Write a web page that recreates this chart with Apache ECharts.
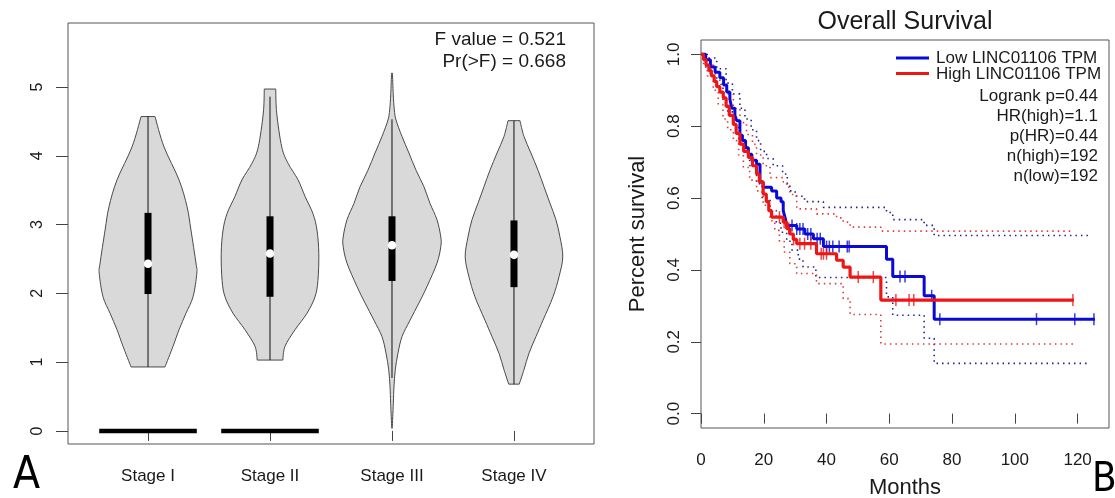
<!DOCTYPE html>
<html>
<head>
<meta charset="utf-8">
<script src="https://cdn.jsdelivr.net/npm/echarts@6/dist/echarts.min.js"></script>
<style>
  html, body { margin: 0; padding: 0; background: #ffffff; }
  #chart { width: 1115px; height: 498px; }
</style>
</head>
<body>
<div id="chart"></div>
<script>
// ---------- Panel A: expression by tumour stage ----------
const stages = ['Stage I', 'Stage II', 'Stage III', 'Stage IV'];
const expressionTicks = [0, 1, 2, 3, 4, 5];

// Violin outlines, top to bottom: [expression, half width in category units]
const violinStageI = [[4.57,0.057],[4.13,0.131],[3.65,0.254],[3.26,0.32],[2.92,0.352],[2.44,0.393],[2.29,0.40],[1.95,0.369],[1.71,0.311],[1.47,0.254],[1.23,0.205],[0.93,0.139]];
const violinStageII = [[4.97,0.047],[4.62,0.055],[4.13,0.096],[3.89,0.148],[3.65,0.23],[3.41,0.287],[3.16,0.352],[2.92,0.385],[2.58,0.40],[2.19,0.393],[1.95,0.369],[1.71,0.303],[1.47,0.205],[1.23,0.123],[1.03,0.105]];
const violinStageIII = [[5.20,0.004],[4.90,0.010],[4.67,0.019],[4.52,0.033],[4.28,0.082],[4.04,0.139],[3.79,0.197],[3.55,0.262],[3.31,0.311],[3.07,0.369],[2.82,0.40],[2.68,0.40],[2.44,0.369],[2.10,0.287],[1.86,0.221],[1.61,0.148],[1.37,0.082],[1.13,0.049],[0.89,0.027],[0.64,0.016],[0.40,0.011],[0.04,0.002]];
const violinStageIV = [[4.51,0.049],[4.28,0.082],[4.04,0.139],[3.79,0.197],[3.55,0.246],[3.31,0.295],[3.07,0.344],[2.82,0.377],[2.53,0.40],[2.24,0.369],[1.95,0.320],[1.61,0.238],[1.37,0.180],[1.13,0.123],[0.89,0.082],[0.68,0.043]];
const violins = [violinStageI, violinStageII, violinStageIII, violinStageIV];

// Box-plot summaries per stage
const lowerQuartile = [1.99, 1.95, 2.18, 2.09];
const upperQuartile = [3.17, 3.12, 3.12, 3.06];
const medians = [2.43, 2.58, 2.70, 2.56];
const whiskerLow = [0.93, 1.03, 0.77, 0.68];
const whiskerHigh = [4.57, 4.86, 4.53, 4.51];

// Flat groups drawn at zero
const zeroBars = [['Stage I', 0], ['Stage II', 0]];

const anovaText = ['F value = 0.521', 'Pr(>F) = 0.668'];

// ---------- Panel B: Kaplan-Meier overall survival ----------
const monthTicks = [0, 20, 40, 60, 80, 100, 120];
const survivalTicks = [0, 0.2, 0.4, 0.6, 0.8, 1.0];
const survivalTickLabels = ['0.0', '0.2', '0.4', '0.6', '0.8', '1.0'];

// [month, survival] steps
const lowSteps = [[0,1],[1.5,0.985],[3,0.965],[4.5,0.95],[6,0.935],[7.2,0.915],[8.2,0.895],[9.2,0.875],[9.8,0.85],[10.8,0.83],[11.4,0.815],[12.4,0.775],[13.2,0.76],[14.2,0.74],[15.1,0.722],[16.2,0.705],[17.7,0.694],[18.8,0.645],[19.8,0.63],[22.5,0.62],[24.1,0.60],[25.5,0.59],[26.2,0.565],[26.8,0.545],[27.3,0.524],[30.5,0.514],[33.1,0.50],[35.8,0.487],[39,0.465],[59.1,0.43],[61.1,0.382],[71.1,0.328],[74.3,0.263],[125.5,0.263]];
const highSteps = [[0,1],[0.8,0.985],[1.6,0.97],[2.5,0.955],[3.3,0.94],[4.2,0.925],[5,0.91],[6,0.895],[7.1,0.879],[8,0.855],[9,0.83],[10.3,0.805],[11.2,0.78],[12.4,0.75],[13.6,0.73],[15.1,0.713],[16.4,0.69],[17.7,0.667],[18.6,0.645],[19.8,0.611],[20.8,0.59],[21.6,0.565],[22.5,0.547],[26.2,0.533],[27.3,0.515],[28.3,0.50],[29.4,0.485],[30.5,0.473],[36.8,0.445],[43.2,0.427],[45.3,0.408],[47.5,0.38],[57.3,0.316],[118.8,0.316]];

// 95% confidence limits
const lowUpper = [[0,1],[2,0.99],[5,0.96],[8,0.92],[10,0.89],[12.4,0.85],[14,0.82],[16,0.79],[17.7,0.76],[19,0.73],[20.9,0.71],[23,0.69],[26,0.667],[27.5,0.64],[28.3,0.62],[30,0.605],[33,0.59],[39,0.574],[59.1,0.56],[61.1,0.54],[71.1,0.524],[74.3,0.496],[124,0.496]];
const lowLower = [[0,1],[1.5,0.96],[3,0.94],[5,0.916],[7,0.87],[8.5,0.84],[10.2,0.805],[12,0.76],[13.4,0.73],[15.5,0.69],[17.7,0.64],[19.5,0.60],[22,0.565],[24,0.53],[25.5,0.505],[27.3,0.48],[29,0.455],[31,0.43],[32.5,0.408],[36.6,0.379],[59.1,0.325],[61.1,0.274],[71.1,0.21],[74.3,0.14],[124,0.14]];
const highUpper = [[0,1],[1,0.99],[3,0.97],[4.5,0.944],[6,0.92],[8,0.89],[10.3,0.85],[12.4,0.81],[14.5,0.777],[16.4,0.75],[17.7,0.72],[19.8,0.69],[22,0.657],[26.2,0.645],[27.3,0.63],[28.3,0.61],[30.5,0.57],[36.8,0.556],[43.2,0.545],[45.3,0.533],[47.5,0.519],[57.3,0.508],[118.8,0.508]];
const highLower = [[0,1],[0.8,0.97],[2,0.94],[3.9,0.90],[5.5,0.86],[7,0.82],[8.5,0.79],[10.3,0.76],[12,0.72],[13.5,0.685],[15.5,0.65],[17.7,0.62],[19.8,0.58],[22,0.537],[23.5,0.51],[25,0.48],[26.5,0.45],[28.3,0.417],[30.5,0.39],[36.8,0.362],[45.3,0.32],[47.5,0.276],[57.3,0.194],[118.8,0.194]];

// Censoring times (months)
const lowCensored = [29, 30.5, 31.5, 32.5, 34, 35, 37, 38, 40, 40.9, 42, 44, 46.6, 47.2, 63.4, 65, 73.5, 76.1, 106.9, 119.1, 125.2];
const highCensored = [25, 26.5, 28, 29.5, 31.5, 33, 35, 38.3, 39, 40, 50.1, 54.9, 62.1, 66.3, 67.8, 118.5];

const groupNames = ['Low LINC01106 TPM', 'High LINC01106 TPM'];
const statsText = ['Logrank p=0.44', 'HR(high)=1.1', 'p(HR)=0.44', 'n(high)=192', 'n(low)=192'];

// ---------- drawing ----------
const FONT = "'Liberation Sans', Arial, Helvetica, sans-serif";
const PANEL_FONT = "'Liberation Sans Narrow', 'DejaVu Sans Condensed', sans-serif";
const BLUE = '#0a0ad8';
const RED = '#ee1515';
const BLUE_CI = '#23238a';
const RED_CI = '#e03a3a';
const TEXT = '#1a1a1a';
const AXIS = '#555555';

function survivalAt(steps, t) {
  let s = steps[0][1];
  for (const [m, v] of steps) { if (m <= t) s = v; else break; }
  return s;
}

// Catmull-Rom curve through screen points, as cubic bezier path commands
function curveThrough(pts) {
  let d = '';
  const n = pts.length;
  for (let k = 0; k < n - 1; k++) {
    const p0 = pts[Math.max(k - 1, 0)], p1 = pts[k], p2 = pts[k + 1], p3 = pts[Math.min(k + 2, n - 1)];
    const c1x = p1[0] + (p2[0] - p0[0]) / 6, c1y = p1[1] + (p2[1] - p0[1]) / 6;
    const c2x = p2[0] - (p3[0] - p1[0]) / 6, c2y = p2[1] - (p3[1] - p1[1]) / 6;
    d += 'C' + c1x + ',' + c1y + ' ' + c2x + ',' + c2y + ' ' + p2[0] + ',' + p2[1];
  }
  return d;
}

function renderViolin(params, api) {
  const i = params.dataIndex;
  const c = i + 1;
  const outline = violins[i];
  const right = outline.map(([v, w]) => api.coord([c + w, v]));
  const left = outline.slice().reverse().map(([v, w]) => api.coord([c - w, v]));
  const pathData = 'M' + right[0][0] + ',' + right[0][1] + curveThrough(right) +
                   'L' + left[0][0] + ',' + left[0][1] + curveThrough(left) + 'Z';
  const lo = api.coord([c, whiskerLow[i]]);
  const hi = api.coord([c, whiskerHigh[i]]);
  const q1 = api.coord([c, lowerQuartile[i]]);
  const q3 = api.coord([c, upperQuartile[i]]);
  const md = api.coord([c, medians[i]]);
  return {
    type: 'group',
    children: [
      { type: 'path', shape: { pathData: pathData },
        style: { fill: '#d9d9d9', stroke: '#4a4a4a', lineWidth: 1 } },
      { type: 'line', shape: { x1: lo[0], y1: lo[1], x2: hi[0], y2: hi[1] },
        style: { stroke: '#111', lineWidth: 1 } },
      { type: 'rect', shape: { x: q3[0] - 3.5, y: q3[1], width: 7, height: q1[1] - q3[1] },
        style: { fill: '#000' } },
      { type: 'circle', shape: { cx: md[0], cy: md[1], r: 4.3 },
        style: { fill: '#fff' } }
    ]
  };
}

function renderZeroBar(params, api) {
  const c = stages.indexOf(zeroBars[params.dataIndex][0]) + 1;
  const v = zeroBars[params.dataIndex][1];
  const a = api.coord([c - 0.4, v]);
  const b = api.coord([c + 0.4, v]);
  return { type: 'line', shape: { x1: a[0], y1: a[1], x2: b[0], y2: b[1] },
           style: { stroke: '#000', lineWidth: 4.5 } };
}

function kmLine(steps, color, width, dotted, z) {
  return {
    type: 'line', xAxisIndex: 1, yAxisIndex: 1, step: 'end', data: steps,
    showSymbol: false, silent: true, animation: false, z: z,
    lineStyle: { color: color, width: width, type: dotted ? [1.5, 4] : 'solid' }
  };
}

function censorMarks(steps, times, color, z) {
  return {
    type: 'scatter', xAxisIndex: 1, yAxisIndex: 1, z: z, silent: true, animation: false,
    data: times.map(t => [t, survivalAt(steps, t)]),
    symbol: 'rect', symbolSize: [1.5, 12], itemStyle: { color: color }
  };
}

const axisLabelBase = { color: TEXT, fontFamily: FONT };

const option = {
  animation: false,
  backgroundColor: '#ffffff',
  grid: [
    { left: 68, top: 23, width: 526, height: 421, show: true, borderColor: AXIS, borderWidth: 1, backgroundColor: 'transparent' },
    { left: 701, top: 40, width: 408, height: 388, show: true, borderColor: AXIS, borderWidth: 1, backgroundColor: 'transparent' }
  ],
  xAxis: [
    { gridIndex: 0, type: 'value', min: 0.344, max: 4.656,
      axisLine: { show: false }, splitLine: { show: false },
      axisTick: { show: true, length: 10, customValues: [1, 2, 3, 4], lineStyle: { color: '#444' } },
      axisLabel: Object.assign({}, axisLabelBase, { customValues: [1, 2, 3, 4], fontSize: 17, margin: 24,
        formatter: v => stages[Math.round(v) - 1] }) },
    { gridIndex: 1, type: 'value', min: 0, max: 130,
      axisLine: { show: false }, splitLine: { show: false },
      axisTick: { show: true, length: 10, customValues: monthTicks, lineStyle: { color: '#444' } },
      axisLabel: Object.assign({}, axisLabelBase, { customValues: monthTicks, fontSize: 17, margin: 24 }) }
  ],
  yAxis: [
    { gridIndex: 0, type: 'value', min: -0.19, max: 5.93,
      axisLine: { show: false }, splitLine: { show: false },
      axisTick: { show: true, length: 12, customValues: expressionTicks, lineStyle: { color: '#444' } },
      axisLabel: Object.assign({}, axisLabelBase, { customValues: expressionTicks, fontSize: 16, rotate: 90, margin: 22 }) },
    { gridIndex: 1, type: 'value', min: -0.04, max: 1.04,
      axisLine: { show: false }, splitLine: { show: false },
      axisTick: { show: true, length: 10, customValues: survivalTicks, lineStyle: { color: '#444' } },
      axisLabel: Object.assign({}, axisLabelBase, { customValues: survivalTicks, fontSize: 17, rotate: 90, margin: 18,
        formatter: v => survivalTickLabels[survivalTicks.findIndex(t => Math.abs(t - v) < 1e-6)] }) }
  ],
  series: [
    { type: 'custom', xAxisIndex: 0, yAxisIndex: 0, silent: true,
      data: stages.map((s, i) => [i + 1, medians[i]]), renderItem: renderViolin, z: 2 },
    { type: 'custom', xAxisIndex: 0, yAxisIndex: 0, silent: true,
      data: zeroBars.map(b => [stages.indexOf(b[0]) + 1, b[1]]), renderItem: renderZeroBar, z: 2 },
    kmLine(lowUpper, BLUE_CI, 1.6, true, 3),
    kmLine(lowLower, BLUE_CI, 1.6, true, 3),
    kmLine(highUpper, RED_CI, 1.6, true, 3),
    kmLine(highLower, RED_CI, 1.6, true, 3),
    kmLine(lowSteps, BLUE, 3, false, 4),
    censorMarks(lowSteps, lowCensored, BLUE, 4),
    kmLine(highSteps, RED, 3.2, false, 5),
    censorMarks(highSteps, highCensored, RED, 5)
  ],
  graphic: [
    // panel A annotations
    { type: 'text', x: 566, y: 40, style: { text: anovaText[0], font: "19px " + FONT, fill: TEXT, textAlign: 'right', textVerticalAlign: 'middle' } },
    { type: 'text', x: 566, y: 62, style: { text: anovaText[1], font: "19px " + FONT, fill: TEXT, textAlign: 'right', textVerticalAlign: 'middle' } },
    { type: 'text', x: 13, y: 477, style: { text: 'A', font: "44px " + PANEL_FONT, fill: '#000', textAlign: 'left', textVerticalAlign: 'middle' } },
    // panel B titles
    { type: 'text', x: 905, y: 22, style: { text: 'Overall Survival', font: "25px " + FONT, fill: TEXT, textAlign: 'center', textVerticalAlign: 'middle' } },
    { type: 'text', x: 905, y: 488, style: { text: 'Months', font: "22px " + FONT, fill: TEXT, textAlign: 'center', textVerticalAlign: 'middle' } },
    { type: 'text', x: 638, y: 234, rotation: Math.PI / 2, style: { text: 'Percent survival', font: "22px " + FONT, fill: TEXT, textAlign: 'center', textVerticalAlign: 'middle' } },
    { type: 'text', x: 1092, y: 481, style: { text: 'B', font: "40px " + PANEL_FONT, fill: '#000', textAlign: 'left', textVerticalAlign: 'middle' } },
    // legend
    { type: 'line', shape: { x1: 896, y1: 58, x2: 929, y2: 58 }, style: { stroke: BLUE, lineWidth: 3 } },
    { type: 'line', shape: { x1: 896, y1: 73.5, x2: 929, y2: 73.5 }, style: { stroke: RED, lineWidth: 3 } },
    { type: 'text', x: 936, y: 58, style: { text: groupNames[0], font: "17px " + FONT, fill: TEXT, textAlign: 'left', textVerticalAlign: 'middle' } },
    { type: 'text', x: 936, y: 74, style: { text: groupNames[1], font: "17px " + FONT, fill: TEXT, textAlign: 'left', textVerticalAlign: 'middle' } }
  ].concat(statsText.map((t, i) => ({
    type: 'text', x: 1098, y: 96 + i * 20,
    style: { text: t, font: "17px " + FONT, fill: TEXT, textAlign: 'right', textVerticalAlign: 'middle' }
  })))
};

const chart = echarts.init(document.getElementById('chart'), null, { renderer: 'canvas' });
chart.setOption(option);
</script>
</body>
</html>
